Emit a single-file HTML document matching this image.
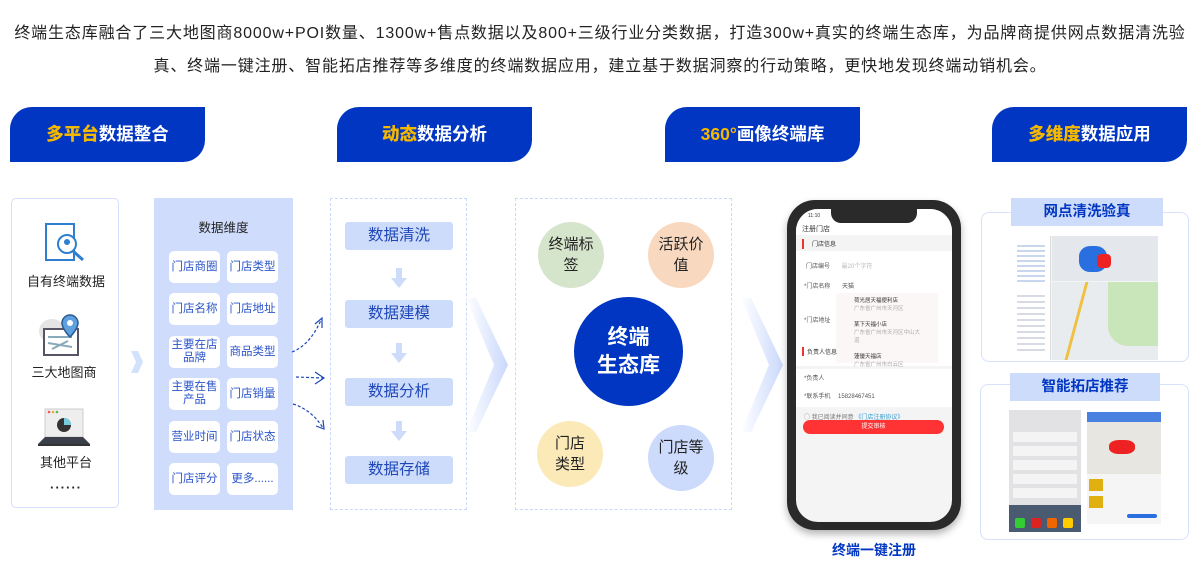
<!DOCTYPE html>
<html><head><meta charset="utf-8"><style>
*{margin:0;padding:0;box-sizing:border-box}
body{width:1200px;height:583px;background:#fff;position:relative;overflow:hidden;font-family:"Liberation Sans","Noto Sans CJK SC",sans-serif;color:#222}
.a{position:absolute}
.intro{left:0;width:1200px;text-align:center;font-size:16px;color:#222;letter-spacing:0.85px;white-space:nowrap}
.tab{height:55px;width:195px;background:#0036c2;border-radius:22px 0 22px 0;color:#fff;font-size:17.5px;font-weight:bold;text-align:center;line-height:55px}
.tab b{color:#f5b800}
.cell{width:51px;height:32px;background:#fff;border-radius:5px;color:#2b54c8;font-size:11.5px;text-align:center;display:flex;align-items:center;justify-content:center;line-height:13px}
.step{left:345px;width:108px;height:28px;background:#cddcfb;border-radius:3px;color:#1f47b8;font-size:15.5px;text-align:center;line-height:28px}
.down{left:391px;width:16px;height:20px}
.circ{border-radius:50%;display:flex;align-items:center;justify-content:center;text-align:center;font-size:15px;line-height:21px;color:#222}
.dash{border:1.5px dashed #c9d8fb}
</style></head><body>
<div class="a intro" style="top:19px">终端生态库融合了三大地图商8000w+POI数量、1300w+售点数据以及800+三级行业分类数据，打造300w+真实的终端生态库，为品牌商提供网点数据清洗验</div>
<div class="a intro" style="top:52px">真、终端一键注册、智能拓店推荐等多维度的终端数据应用，建立基于数据洞察的行动策略，更快地发现终端动销机会。</div>

<div class="a tab" style="left:10px;top:107px"><b>多平台</b>数据整合</div>
<div class="a tab" style="left:337px;top:107px"><b>动态</b>数据分析</div>
<div class="a tab" style="left:665px;top:107px"><b>360°</b>画像终端库</div>
<div class="a tab" style="left:992px;top:107px"><b>多维度</b>数据应用</div>

<div class="a" style="left:11px;top:198px;width:108px;height:310px;border:1.5px solid #d3dffb;border-radius:5px"></div>
<svg class="a" style="left:40px;top:222px" width="50" height="45"><rect x="6" y="2" width="28" height="36" fill="#fff" stroke="#2f7fd0" stroke-width="2"/><circle cx="27" cy="22" r="9" fill="#fff" stroke="#2f7fd0" stroke-width="2"/><circle cx="27" cy="20" r="3" fill="#2f7fd0"/><line x1="33" y1="29" x2="43" y2="38" stroke="#2f7fd0" stroke-width="3"/></svg>
<div class="a" style="left:11px;top:271px;width:110px;text-align:center;font-size:13px">自有终端数据</div>
<svg class="a" style="left:38px;top:313px" width="48" height="44"><ellipse cx="14" cy="18" rx="13" ry="12" fill="#e4e4e4"/><rect x="6" y="16" width="34" height="26" fill="#fff" stroke="#556" stroke-width="2"/><path d="M10 24 L34 24 M10 30 L34 34 M14 36 L30 28" stroke="#8ab" stroke-width="2"/><path d="M32 2 a8 8 0 0 1 8 8 c0 6 -8 14 -8 14 c0 0 -8 -8 -8 -14 a8 8 0 0 1 8 -8z" fill="#5fa0e0" stroke="#2a5a90" stroke-width="1.5"/><circle cx="32" cy="10" r="3" fill="#fff"/></svg>
<div class="a" style="left:9px;top:362px;width:110px;text-align:center;font-size:13px">三大地图商</div>
<svg class="a" style="left:36px;top:408px" width="56" height="40"><rect x="9" y="1" width="38" height="28" fill="#eee" stroke="#ccc"/><circle cx="13" cy="4" r="1.3" fill="#e55"/><circle cx="17" cy="4" r="1.3" fill="#ea3"/><circle cx="21" cy="4" r="1.3" fill="#5b5"/><circle cx="28" cy="17" r="7" fill="#333"/><path d="M28 17 L28 10 A7 7 0 0 1 35 17z" fill="#7cd"/><path d="M2 36 L9 29 L47 29 L54 36z" fill="#3a3f4a"/><rect x="2" y="36" width="52" height="2" fill="#333"/></svg>
<div class="a" style="left:11px;top:452px;width:110px;text-align:center;font-size:13px">其他平台</div>
<div class="a" style="left:11px;top:480px;width:110px;text-align:center;font-size:13px;font-weight:bold;letter-spacing:1px">······</div>
<svg class="a" style="left:130px;top:350px" width="14" height="24"><path d="M1 1 L8 1 L13 12 L8 23 L1 23 L6 12z" fill="#d4e1fd"/></svg>

<div class="a" style="left:154px;top:198px;width:139px;height:312px;background:#cfdcfb"></div>
<div class="a" style="left:154px;top:217px;width:139px;text-align:center;font-size:12.5px">数据维度</div>
<div class="a cell" style="left:169px;top:251px">门店商圈</div><div class="a cell" style="left:227px;top:251px">门店类型</div>
<div class="a cell" style="left:169px;top:293px">门店名称</div><div class="a cell" style="left:227px;top:293px">门店地址</div>
<div class="a cell" style="left:169px;top:336px">主要在店<br>品牌</div><div class="a cell" style="left:227px;top:336px">商品类型</div>
<div class="a cell" style="left:169px;top:378px">主要在售<br>产品</div><div class="a cell" style="left:227px;top:378px">门店销量</div>
<div class="a cell" style="left:169px;top:421px">营业时间</div><div class="a cell" style="left:227px;top:421px">门店状态</div>
<div class="a cell" style="left:169px;top:463px">门店评分</div><div class="a cell" style="left:227px;top:463px">更多......</div>

<svg class="a" style="left:290px;top:300px" width="40" height="165" fill="none" stroke="#1f47b8" stroke-width="1.2" stroke-dasharray="3,2">
<path d="M2 52 Q20 45 31 20"/><path d="M25 24 L32 18 L32 28" stroke-dasharray="none"/>
<path d="M6 77 L33 78"/><path d="M25 72 L34 78 L25 84" stroke-dasharray="none"/>
<path d="M3 104 Q22 110 33 128"/><path d="M33 120 L34 129 L26 126" stroke-dasharray="none"/>
</svg>

<div class="a dash" style="left:330px;top:198px;width:137px;height:312px"></div>
<div class="a step" style="top:222px">数据清洗</div>
<div class="a step" style="top:300px">数据建模</div>
<div class="a step" style="top:378px">数据分析</div>
<div class="a step" style="top:456px">数据存储</div>
<svg class="a down" style="top:268px"><path d="M5 0 H11 V10 H16 L8 20 L0 10 H5z" fill="#cddcfb"/></svg>
<svg class="a down" style="top:343px"><path d="M5 0 H11 V10 H16 L8 20 L0 10 H5z" fill="#cddcfb"/></svg>
<svg class="a down" style="top:421px"><path d="M5 0 H11 V10 H16 L8 20 L0 10 H5z" fill="#cddcfb"/></svg>

<svg class="a" style="left:466px;top:298px" width="44" height="135"><defs><linearGradient id="g" x1="0" x2="1"><stop offset="0" stop-color="#fff"/><stop offset="1" stop-color="#c9d8fb"/></linearGradient></defs><path d="M0 0 L10 0 L42 67 L10 134 L0 134 L28 67z" fill="url(#g)"/></svg>
<svg class="a" style="left:741px;top:298px" width="44" height="135"><path d="M0 0 L10 0 L42 67 L10 134 L0 134 L28 67z" fill="url(#g)"/></svg>

<div class="a dash" style="left:515px;top:198px;width:217px;height:312px"></div>
<div class="a circ" style="left:538px;top:222px;width:66px;height:66px;background:#d5e5cc">终端标<br>签</div>
<div class="a circ" style="left:648px;top:222px;width:66px;height:66px;background:#f9d8c0">活跃价<br>值</div>
<div class="a circ" style="left:574px;top:297px;width:109px;height:109px;background:#0036c2;color:#fff;font-size:21px;font-weight:bold;line-height:28px">终端<br>生态库</div>
<div class="a circ" style="left:537px;top:421px;width:66px;height:66px;background:#fbeab8">门店<br>类型</div>
<div class="a circ" style="left:648px;top:425px;width:66px;height:66px;background:#ccdafb">门店等<br>级</div>

<div class="a" style="left:787px;top:200px;width:174px;height:330px;border-radius:28px;background:#2a2a2a;box-shadow:0 4px 8px rgba(0,0,0,.3)"></div>
<div class="a" style="left:796px;top:209px;width:156px;height:313px;border-radius:22px;background:#f4f4f4;overflow:hidden;font-size:6px;color:#333">
 <div style="height:26px;background:#fff"></div>
 <div style="position:absolute;left:35px;top:0;width:86px;height:14px;background:#2a2a2a;border-radius:0 0 10px 10px"></div>
 <div style="position:absolute;left:12px;top:4px;font-size:5px">11:10</div>
 <div style="position:absolute;left:6px;top:15px;font-size:7px">注册门店</div>
 <div style="position:absolute;left:0;top:30px;width:156px;height:10px;font-size:6px;padding-left:8px;border-left:2px solid #e33;left:6px">门店信息</div>
 <div style="position:absolute;left:0;top:42px;width:156px;height:115px;background:#fff"></div>
 <div style="position:absolute;left:10px;top:52px;color:#555">门店编号 <span style="color:#bbb;margin-left:10px">最20个字符</span></div>
 <div style="position:absolute;left:8px;top:72px;color:#555">*门店名称 <span style="margin-left:10px">天猫</span></div>
 <div style="position:absolute;left:8px;top:106px;color:#555">*门店地址</div>
 <div style="position:absolute;left:40px;top:84px;width:102px;height:70px;background:#fbf7f6;font-size:5.5px;padding:4px 18px;line-height:8px">荷光居天福便利店<br><span style="color:#aaa">广东省广州市天河区</span><br><br>某下天福小店<br><span style="color:#aaa">广东省广州市天河区中山大道</span><br><br>蓮優天福店<br><span style="color:#aaa">广东省广州市白云区</span></div>
 <div style="position:absolute;left:6px;top:138px;padding-left:3px;border-left:2px solid #e33">负责人信息</div>
 <div style="position:absolute;left:0;top:160px;width:156px;height:38px;background:#fff"></div>
 <div style="position:absolute;left:8px;top:164px;color:#555">*负责人</div>
 <div style="position:absolute;left:8px;top:182px;color:#555">*联系手机 <span style="margin-left:6px">15828467451</span></div>
 <div style="position:absolute;left:8px;top:203px;color:#777">◯ 我已阅读并同意 <span style="color:#39c">《门店注册协议》</span></div>
 <div style="position:absolute;left:7px;top:211px;width:141px;height:14px;background:#f33;border-radius:7px;color:#fff;text-align:center;line-height:14px">提交审核</div>
</div>
<div class="a" style="left:786px;top:540px;width:176px;text-align:center;font-size:14px;font-weight:bold;color:#0036c2">终端一键注册</div>

<div class="a" style="left:981px;top:212px;width:208px;height:150px;border:1.5px solid #d6e1fb;border-radius:8px"></div>
<div class="a" style="left:1011px;top:198px;width:152px;height:28px;background:#cddcfb;color:#0036c2;font-size:14.5px;font-weight:bold;text-align:center;line-height:28px">网点清洗验真</div>
<div class="a" style="left:1013px;top:236px;width:145px;height:124px;background:#f4f4f4">
 <div style="position:absolute;left:0;top:0;width:38px;height:124px;background:#fff;border-right:1px solid #ddd"></div>
 <div style="position:absolute;left:4px;top:6px;width:28px;height:40px;background:repeating-linear-gradient(#fff 0 3px,#c8d6ee 3px 5px)"></div>
 <div style="position:absolute;left:4px;top:55px;width:28px;height:60px;background:repeating-linear-gradient(#fff 0 4px,#d6dbe4 4px 6px)"></div>
 <div style="position:absolute;left:39px;top:0;width:106px;height:45px;background:#e4e8ec"></div>
 <div style="position:absolute;left:66px;top:10px;width:28px;height:26px;background:#2a6fe0;border-radius:40%"></div>
 <div style="position:absolute;left:84px;top:18px;width:14px;height:14px;background:#e22;border-radius:30%"></div>
 <div style="position:absolute;left:39px;top:46px;width:106px;height:78px;background:#e9ecef"></div>
 <div style="position:absolute;left:95px;top:46px;width:50px;height:64px;background:#c9e5ba;border-radius:0 0 0 20px"></div>
 <div style="position:absolute;left:62px;top:46px;width:3px;height:78px;background:#f0c040;transform:skewX(-15deg)"></div>
</div>
<div class="a" style="left:980px;top:384px;width:209px;height:156px;border:1.5px solid #d6e1fb;border-radius:8px"></div>
<div class="a" style="left:1010px;top:373px;width:150px;height:28px;background:#cddcfb;color:#0036c2;font-size:14.5px;font-weight:bold;text-align:center;line-height:28px">智能拓店推荐</div>
<div class="a" style="left:1009px;top:410px;width:72px;height:122px;background:#e2e2e4">
 <div style="position:absolute;left:4px;top:22px;width:64px;height:66px;background:repeating-linear-gradient(#f4f4f4 0 10px,#e2e2e4 10px 14px)"></div>
 <div style="position:absolute;left:0;top:95px;width:72px;height:27px;background:#4a5a70"></div>
 <div style="position:absolute;left:6px;top:108px;width:10px;height:10px;background:#3c3;border-radius:2px"></div>
 <div style="position:absolute;left:22px;top:108px;width:10px;height:10px;background:#d22;border-radius:2px"></div>
 <div style="position:absolute;left:38px;top:108px;width:10px;height:10px;background:#e60;border-radius:2px"></div>
 <div style="position:absolute;left:54px;top:108px;width:10px;height:10px;background:#fc0;border-radius:2px"></div>
</div>
<div class="a" style="left:1087px;top:412px;width:74px;height:112px;background:#f5f5f5">
 <div style="position:absolute;left:0;top:0;width:74px;height:10px;background:#4a80e0"></div>
 <div style="position:absolute;left:0;top:10px;width:74px;height:52px;background:#e8e6e0"></div>
 <div style="position:absolute;left:22px;top:28px;width:26px;height:14px;background:#e22;border-radius:40%"></div>
 <div style="position:absolute;left:2px;top:67px;width:14px;height:12px;background:#e0b010"></div>
 <div style="position:absolute;left:2px;top:84px;width:14px;height:12px;background:#e0b010"></div>
 <div style="position:absolute;left:40px;top:102px;width:30px;height:4px;background:#2a6fe0;border-radius:2px"></div>
</div>
</body></html>
